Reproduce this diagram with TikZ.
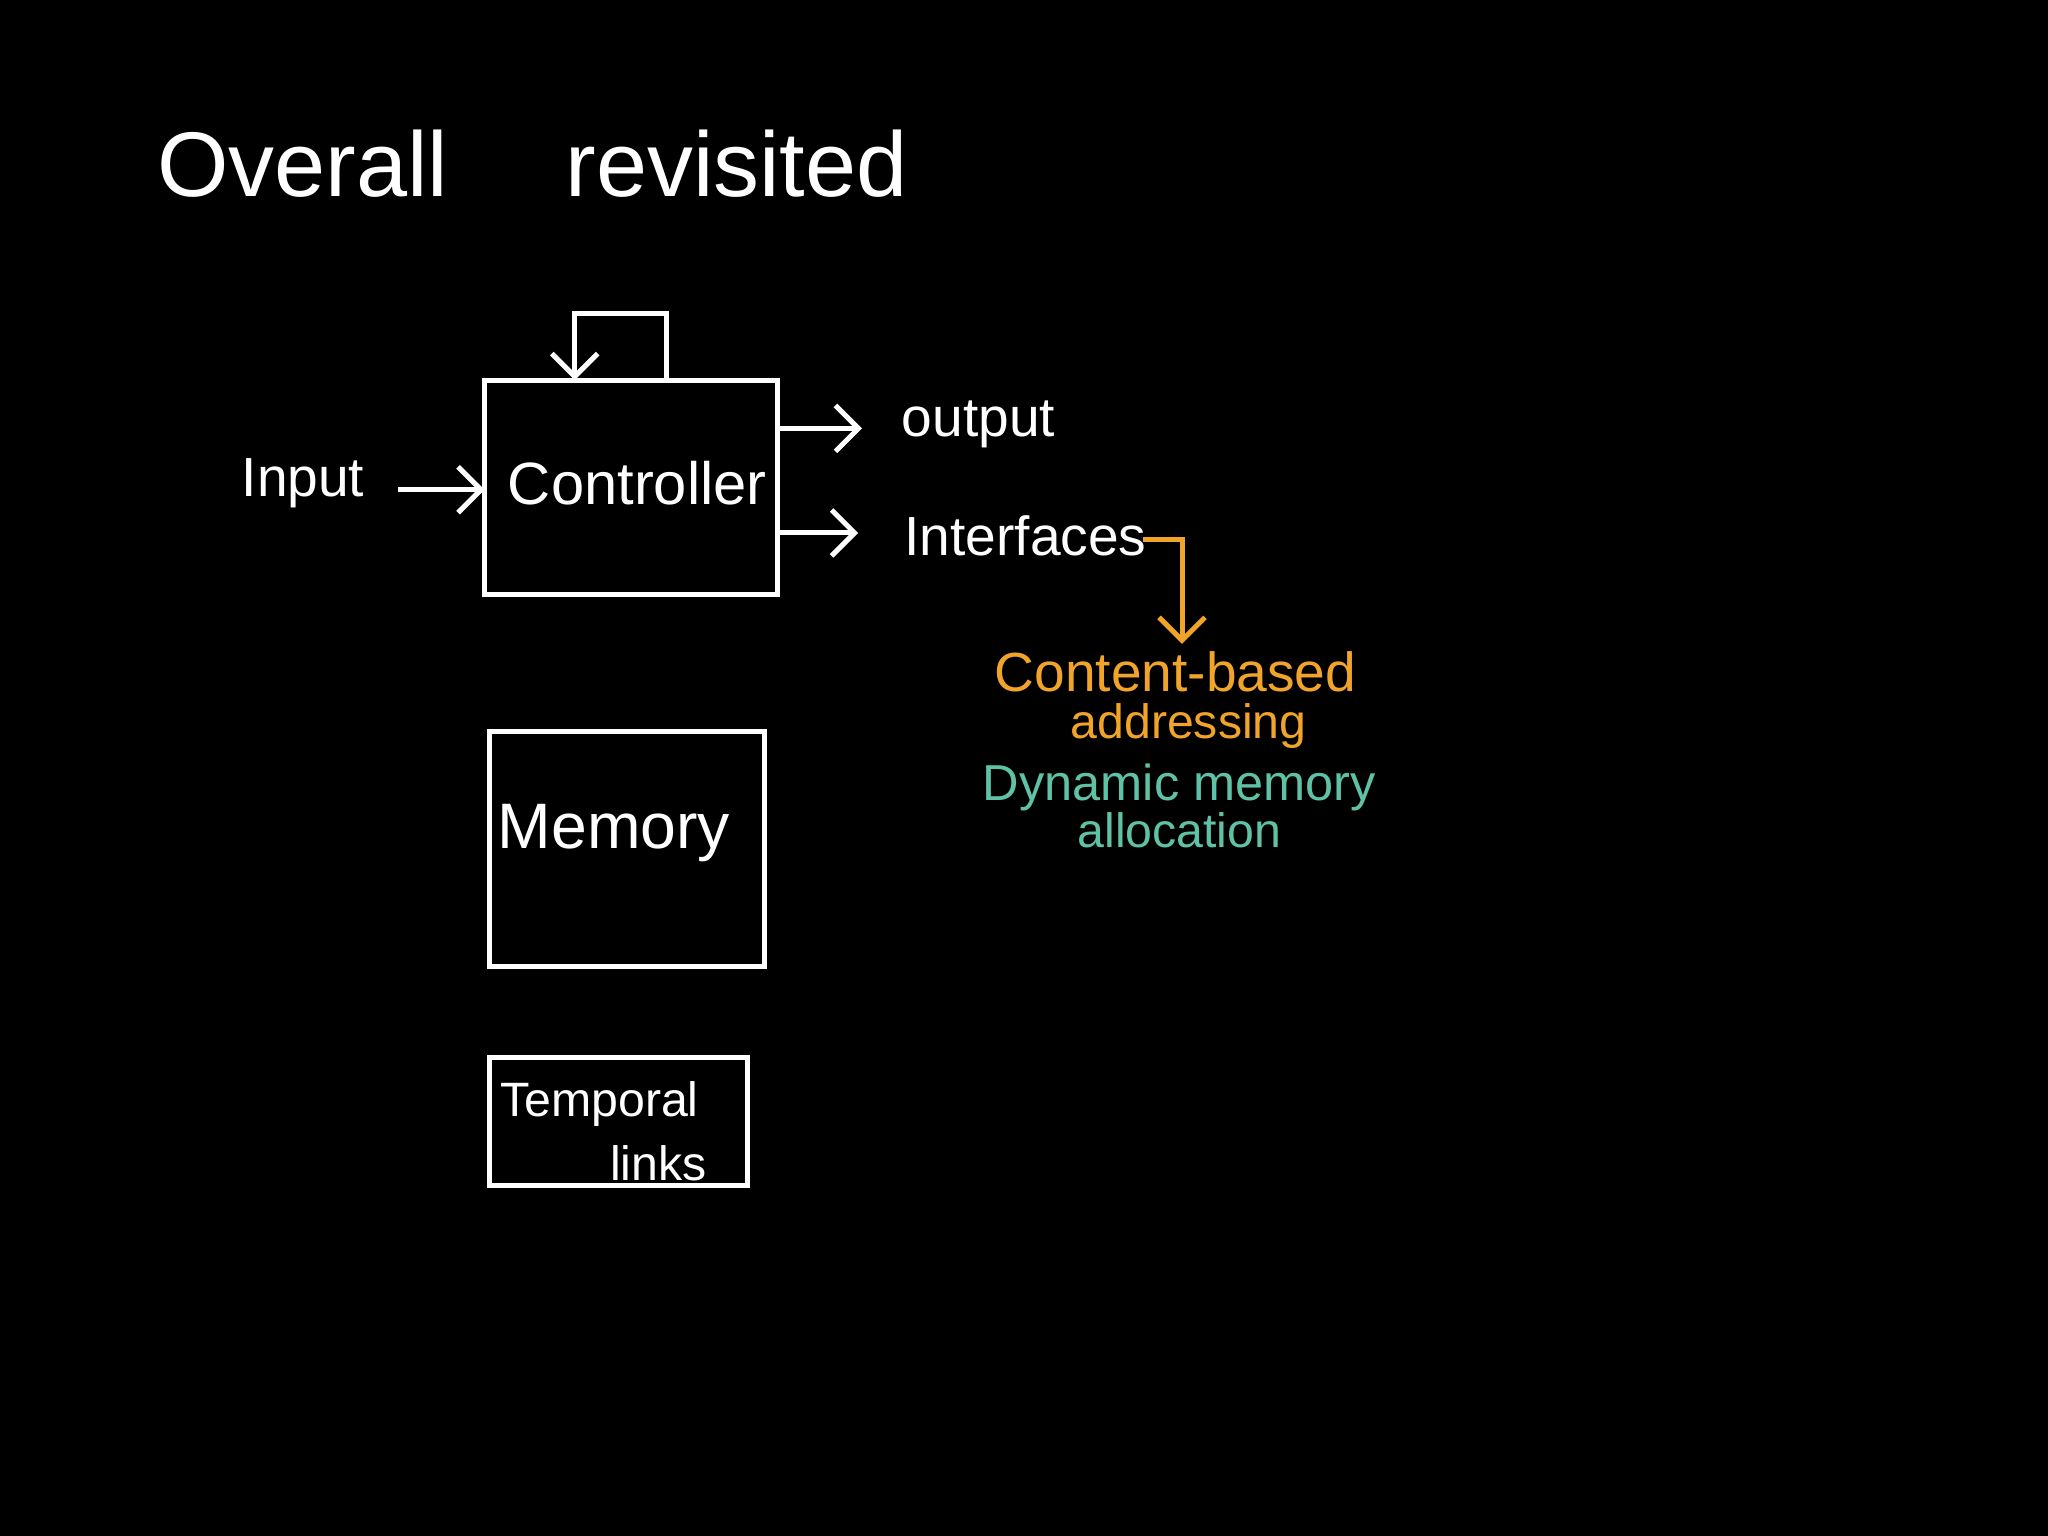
\documentclass[tikz,border=0pt]{standalone}
\usepackage{fontspec}
\usetikzlibrary{arrows.meta}
\setmainfont{Liberation Sans}
\begin{document}
\begin{tikzpicture}[x=0.01cm,y=-0.01cm,
  ln/.style={draw=white,line width=1.1pt},
  arr/.style={ln,-{Straight Barb[length=5pt,width=10pt]}},
  tx/.style={text=white,font=\fontsize{12}{14}\selectfont}]
\fill[black] (0,0) rectangle (1568,1176);
\useasboundingbox (0,0) rectangle (1568,1176);
\definecolor{org}{HTML}{F0A52A}
\definecolor{teal}{HTML}{5FC2A6}
\node[tx,font=\fontsize{20}{22}\selectfont,anchor=west] (title) at (108,125) {Overall\quad\ revisited};
\draw[ln] (371,291) rectangle (595,455);
\node[tx,font=\fontsize{13}{15}\selectfont] (ctext) at (488,370) {Controller};
\coordinate (l1) at (510,291); \coordinate (l2) at (510,240);
\coordinate (l3) at (440,240); \coordinate (l4) at (440,291);
\draw[arr] (l1) -- (l2) -- (l3) -- (l4);
\node[tx] (inp) at (232,370) {Input};
\coordinate (ci) at (371,375);
\coordinate (ia) at (305,375);
\draw[arr] (ia) -- (ci);
\node[tx,anchor=west] (out) at (678,325) {output};
\node[tx,anchor=west] (intf) at (680,410) {Interfaces};
\coordinate (co) at (595,328); \coordinate (cf) at (595,408);
\draw[arr] (co) -- (660,328);
\draw[arr] (cf) -- (657,408);
\coordinate (o0) at (875,413);
\coordinate (o1) at (905,413);
\coordinate (o2) at (905,493);
\node[text=org,font=\fontsize{12}{14}\selectfont] (cba) at (900,514) {Content-based};
\node[text=org,font=\fontsize{10.5}{12}\selectfont] (adr) at (910,556) {addressing};
\draw[draw=org,line width=1.1pt,-{Straight Barb[length=5pt,width=10pt]}] (o0) -- (o1) -- (o2);
\node[text=teal,font=\fontsize{11}{13}\selectfont] (dyn) at (903,603) {Dynamic memory};
\node[text=teal,font=\fontsize{10.5}{12}\selectfont] (alloc) at (903,636) {allocation};
\draw[ln] (375,560) rectangle (585,740);
\node[tx,font=\fontsize{14}{16}\selectfont] (mem) at (470,638) {Memory};
\draw[ln] (375,810) rectangle (572,908);
\node[tx,font=\fontsize{10.5}{14}\selectfont,align=left] (tl) at (462,866) {Temporal\\ \qquad\ links};
\end{tikzpicture}
\end{document}
